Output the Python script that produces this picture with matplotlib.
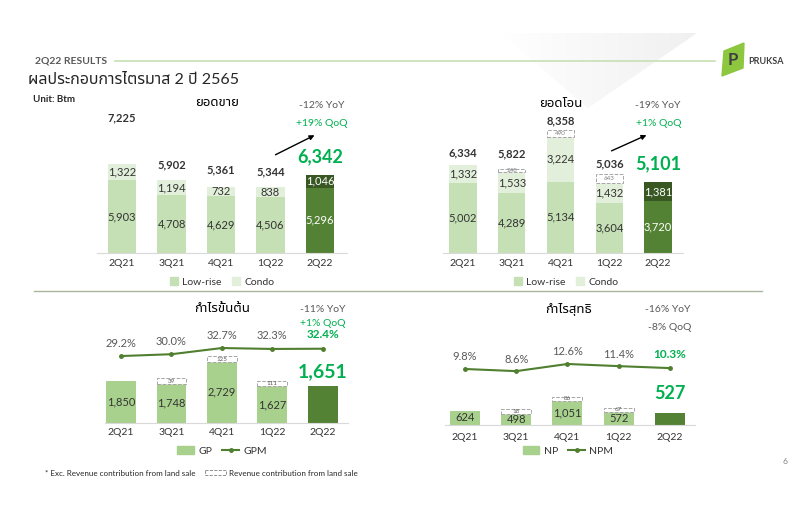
import numpy as np
import matplotlib
matplotlib.use('Agg')
import matplotlib.pyplot as plt
from matplotlib.patches import Patch, Polygon, Rectangle
from matplotlib.lines import Line2D
from matplotlib.colors import LinearSegmentedColormap

plt.rcParams['font.family'] = ['Lato', 'Noto Sans Thai', 'Noto Sans Thai Looped', 'DejaVu Sans']

# data
quarters = ['2Q21', '3Q21', '4Q21', '1Q22', '2Q22']

sales_lowrise = [5903, 4708, 4629, 4506, 5296]
sales_condo = [1322, 1194, 732, 838, 1046]
sales_total = [7225, 5902, 5361, 5344, 6342]

transfer_lowrise = [5002, 4289, 5134, 3604, 3720]
transfer_condo = [1332, 1533, 3224, 1432, 1381]
transfer_land = [0, 248, 490, 643, 0]
transfer_total = [6334, 5822, 8358, 5036, 5101]

gp = [1850, 1748, 2729, 1627, 1651]
gp_land = [0, 39, 125, 111, 0]
gpm = [29.2, 30.0, 32.7, 32.3, 32.4]

net_profit = [624, 498, 1051, 572, 527]
np_land = [0, 18, 86, 67, 0]
npm = [9.8, 8.6, 12.6, 11.4, 10.3]

# colours
LOW = '#c5e0b4'
CONDO = '#e2efda'
DARK = '#548235'
DARKER = '#385723'
GPC = '#a9d18e'
LINEC = '#4f7f2f'
TXT = '#333333'
GREY = '#595959'
GREEN = '#00b050'

W, H = 800, 526
fig = plt.figure(figsize=(8, 5.26), dpi=100)

# background axes in pixel coordinates
bg = fig.add_axes([0, 0, 1, 1], zorder=-10)
bg.set_xlim(0, W)
bg.set_ylim(H, 0)
bg.axis('off')

# light decorative wedge
wedge = Polygon([(500, 33), (697, 33), (588, 108)], closed=True, facecolor='none', edgecolor='none')
bg.add_patch(wedge)
cmap = LinearSegmentedColormap.from_list('w', ['#ffffff', '#f0f0f0'])
im = bg.imshow(np.linspace(0, 1, 256).reshape(1, -1), cmap=cmap, extent=(500, 697, 108, 33), aspect='auto')
im.set_clip_path(wedge)
bg.set_xlim(0, W)
bg.set_ylim(H, 0)

bg.plot([115, 715], [61, 61], color='#c5e0b4', lw=1.2)
bg.plot([34, 762], [291, 291], color='#a9b59c', lw=1)
bg.text(35, 61, '2Q22 RESULTS', fontsize=7.5, fontweight='bold', color=GREY, va='center')
bg.text(28, 80, 'ผลประกอบการไตรมาส 2 ปี 2565', fontsize=11.5, color='#262626', va='center')
bg.text(33, 99, 'Unit: Btm', fontsize=7, fontweight='bold', color='#262626', va='center')

# logo
bg.add_patch(Polygon([(724, 51), (744, 43), (743, 68), (722, 76)], closed=True, color='#8dc63f'))
bg.text(733, 60, 'P', fontsize=12, fontweight='bold', color='#404040', ha='center', va='center')
bg.text(748, 61, 'PRUKSA', fontsize=6.5, fontweight='bold', color='#404040', va='center')

bg.text(785, 462, '6', fontsize=6, color='#7f7f7f', ha='center', va='center')

# footnote
bg.text(45, 473, '* Exc. Revenue contribution from land sale', fontsize=5.8, color='#262626', va='center')
bg.add_patch(Rectangle((205, 470), 21, 5, facecolor='white', edgecolor='#7f7f7f', ls='--', lw=0.6))
bg.text(229, 473, 'Revenue contribution from land sale', fontsize=5.8, color='#262626', va='center')


def px_axes(l, t, r, b):
    ax = fig.add_axes([l / W, 1 - b / H, (r - l) / W, (b - t) / H])
    ax.set_facecolor('none')
    for s in ['top', 'right', 'left']:
        ax.spines[s].set_visible(False)
    ax.spines['bottom'].set_color('#d9d9d9')
    ax.set_yticks([])
    return ax


def pt(px):
    return px * 0.72


def stacked_panel(ax, low, condo, total, land, width, xlim, ymax, offs, pad):
    x = np.arange(len(quarters))
    ax.bar(x, low, width=width, color=[LOW] * 4 + [DARK])
    ax.bar(x, condo, bottom=low, width=width, color=[CONDO] * 4 + [DARKER])
    tops = list(total)
    if land is not None:
        for i, v in enumerate(land):
            if v > 0:
                ax.bar(i, v, bottom=total[i], width=width, color='white',
                       edgecolor='#a6a6a6', ls='--', lw=0.7)
                ax.text(i, total[i] + v / 2, f'{v:,}', fontsize=4.5, color='#7f7f7f',
                        ha='center', va='center')
                tops[i] = total[i] + v
    for i in x:
        c = 'white' if i == 4 else TXT
        ax.text(i, low[i] / 2, f'{low[i]:,}', ha='center', va='center', fontsize=8, color=c)
        ax.text(i, low[i] + condo[i] / 2, f'{condo[i]:,}', ha='center', va='center', fontsize=8, color=c)
        if i < 4:
            ax.annotate(f'{total[i]:,}', (i, tops[i]), xytext=(0, pt(offs[i])), textcoords='offset points',
                        ha='center', va='center', fontsize=8, fontweight='bold', color=TXT,
                        annotation_clip=False)
        else:
            ax.annotate(f'{total[i]:,}', (i, tops[i]), xytext=(0, pt(offs[i])), textcoords='offset points',
                        ha='center', va='center', fontsize=13, fontweight='bold', color=GREEN,
                        annotation_clip=False)
    ax.set_xlim(*xlim)
    ax.set_ylim(0, ymax)
    ax.set_xticks(x, quarters)
    ax.tick_params(axis='x', length=0, labelsize=7.5, colors=TXT, pad=pad)


def profit_panel(ax, vals, land, margin, width, xlim, ymax, mlim, moffs, pad, minbox, bigsize):
    x = np.arange(len(quarters))
    ax.bar(x, vals, width=width, color=[GPC] * 4 + [DARK])
    for i in x:
        if land[i] > 0:
            h = max(land[i], minbox)
            ax.bar(i, h, bottom=vals[i], width=width, color='white', edgecolor='#a6a6a6', ls='--', lw=0.7)
            ax.text(i, vals[i] + h / 2, f'{land[i]:,}', fontsize=4.5, color='#595959', ha='center', va='center')
        if i < 4:
            ax.text(i, vals[i] / 2, f'{vals[i]:,}', ha='center', va='center', fontsize=8, color=TXT)
        else:
            ax.annotate(f'{vals[i]:,}', (i, vals[i]), xytext=(0, pt(moffs[1])), textcoords='offset points',
                        ha='center', va='center', fontsize=bigsize, fontweight='bold', color=GREEN,
                        annotation_clip=False)
    ax.set_xlim(*xlim)
    ax.set_ylim(0, ymax)
    ax.set_xticks(x, quarters)
    ax.tick_params(axis='x', length=0, labelsize=7.5, colors=TXT, pad=pad)
    tw = ax.twinx()
    tw.set_facecolor('none')
    tw.axis('off')
    tw.plot(x, margin, color=LINEC, lw=1.5, marker='o', ms=2.5)
    tw.set_ylim(*mlim)
    tw.set_xlim(*xlim)
    for i in x:
        if i < 4:
            tw.annotate(f'{margin[i]:.1f}%', (i, margin[i]), xytext=(0, pt(moffs[0])),
                        textcoords='offset points', ha='center', va='center', fontsize=8, color=GREY)
    return tw


leg_kw = dict(loc='center', ncol=2, frameon=False, fontsize=7.5, handleheight=0.8,
              handletextpad=0.4, columnspacing=1.0, labelcolor=TXT)

# panel 1: sales
ax1 = px_axes(97, 133, 347, 253)
stacked_panel(ax1, sales_lowrise, sales_condo, sales_total, None, 0.57,
              (-0.505, 4.545), 9740, [46, 15, 17, 15, 18], 4)
bg.text(217, 102, 'ยอดขาย', fontsize=9.5, fontweight='bold', color='black', ha='center', va='center')
bg.text(322, 106, '-12% YoY', fontsize=7.5, color=GREY, ha='center', va='center')
bg.text(322, 124, '+19% QoQ', fontsize=7.5, color=GREEN, ha='center', va='center')
bg.annotate('', xy=(317, 134), xytext=(273, 156),
            arrowprops=dict(arrowstyle='-|>', color='black', lw=1, mutation_scale=7))
fig.legend(handles=[Patch(color=LOW, label='Low-rise'), Patch(color=CONDO, label='Condo')],
           bbox_to_anchor=(222 / W, 1 - 282 / H), handlelength=0.8, **leg_kw)

# panel 2: transfers
ax2 = px_axes(443, 123, 683, 253)
stacked_panel(ax2, transfer_lowrise, transfer_condo, transfer_total, transfer_land, 0.56,
              (-0.41, 4.51), 9353, [12, 15, 9, 10, 18], 4)
bg.text(561, 103, 'ยอดโอน', fontsize=9.5, fontweight='bold', color='black', ha='center', va='center')
bg.text(658, 106, '-19% YoY', fontsize=7.5, color=GREY, ha='center', va='center')
bg.text(659, 124, '+1% QoQ', fontsize=7.5, color=GREEN, ha='center', va='center')
bg.annotate('', xy=(649, 134), xytext=(609, 152),
            arrowprops=dict(arrowstyle='-|>', color='black', lw=1, mutation_scale=7))
fig.legend(handles=[Patch(color=LOW, label='Low-rise'), Patch(color=CONDO, label='Condo')],
           bbox_to_anchor=(566 / W, 1 - 282 / H), handlelength=0.8, **leg_kw)

# panel 3: gross profit
ax3 = px_axes(105, 340, 348, 423)
profit_panel(ax3, gp, gp_land, gpm, 0.59, (-0.317, 4.5), 3689, (0, 36.2), (13, 14), 3.5, 230, 14)
bg.text(222, 308, 'กำไรขั้นต้น', fontsize=9.5, fontweight='bold', color='black', ha='center', va='center')
bg.text(323, 309, '-11% YoY', fontsize=7.5, color=GREY, ha='center', va='center')
bg.text(323, 324, '+1% QoQ', fontsize=7.5, color=GREEN, ha='center', va='center')
bg.text(323, 335, '32.4%', fontsize=8.5, fontweight='bold', color=GREEN, ha='center', va='center')
fig.legend(handles=[Patch(color=GPC, label='GP'),
                    Line2D([0], [0], color=LINEC, lw=1.5, marker='o', ms=2.5, label='GPM')],
           bbox_to_anchor=(222 / W, 1 - 451 / H), handlelength=1.6, **leg_kw)

# panel 4: net profit
ax4 = px_axes(445, 340, 695, 425)
profit_panel(ax4, net_profit, np_land, npm, 0.585, (-0.39, 4.49), 3712, (-21.5, 26), (12, 19), 6, 180, 13)
bg.text(568, 309, 'กำไรสุทธิ', fontsize=9.5, fontweight='bold', color='black', ha='center', va='center')
bg.text(668, 310, '-16% YoY', fontsize=7.5, color=GREY, ha='center', va='center')
bg.text(670, 327, '-8% QoQ', fontsize=7.5, color=GREY, ha='center', va='center')
bg.text(670, 355, '10.3%', fontsize=8.5, fontweight='bold', color=GREEN, ha='center', va='center')
fig.legend(handles=[Patch(color=GPC, label='NP'),
                    Line2D([0], [0], color=LINEC, lw=1.5, marker='o', ms=2.5, label='NPM')],
           bbox_to_anchor=(568 / W, 1 - 451 / H), handlelength=1.6, **leg_kw)

fig.savefig('out.png', dpi=100)
